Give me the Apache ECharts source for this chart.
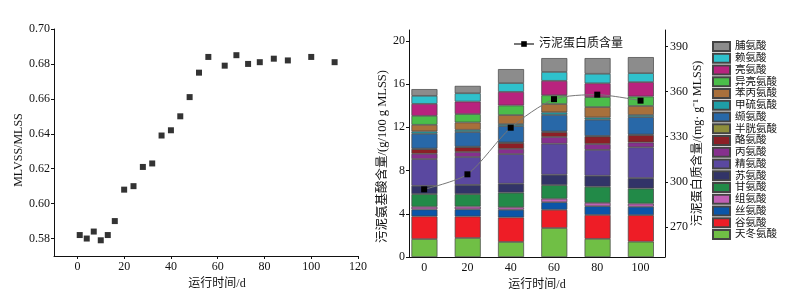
<!DOCTYPE html>
<html>
<head>
<meta charset="utf-8">
<script src="https://cdn.jsdelivr.net/npm/echarts@6/dist/echarts.min.js"></script>
<style>
  html, body { margin: 0; padding: 0; background: #fff; }
  #chart { width: 787px; height: 296px; }
</style>
</head>
<body>
<div id="chart"></div>
<script>
// 左图: MLVSS/MLSS 随运行时间
const ratioDays = [1, 4, 7, 10, 13, 16, 20, 24, 28, 32, 36, 40, 44, 48, 52, 56, 63, 68, 73, 78, 84, 90, 100, 110];
const ratioValues = [0.582, 0.580, 0.584, 0.579, 0.582, 0.590, 0.608, 0.610, 0.621, 0.623, 0.639, 0.642,
  0.650, 0.661, 0.675, 0.684, 0.679, 0.685, 0.680, 0.681, 0.683, 0.682, 0.684, 0.681];
const ratioTicks = [0.58, 0.60, 0.62, 0.64, 0.66, 0.68, 0.70];
const dayTicksLeft = [0, 20, 40, 60, 80, 100, 120];

// 右图: 氨基酸组成 (g/100 g MLSS), 自下而上
const barDays = [0, 20, 40, 60, 80, 100];
const asp = [1.66, 1.76, 1.39, 2.68, 1.68, 1.42]; // 天冬氨酸
const glu = [2.10, 1.99, 2.27, 1.69, 2.21, 2.45]; // 谷氨酸
const ser = [0.64, 0.66, 0.71, 0.70, 0.81, 0.78]; // 丝氨酸
const his = [0.25, 0.26, 0.23, 0.32, 0.31, 0.29]; // 组氨酸
const gly = [1.17, 1.15, 1.35, 1.26, 1.49, 1.40]; // 甘氨酸
const thr = [0.77, 0.85, 0.83, 0.96, 1.02, 0.96]; // 苏氨酸
const arg = [2.47, 2.58, 2.74, 2.87, 2.39, 2.85]; // 精氨酸
const ala = [0.49, 0.46, 0.48, 0.62, 0.54, 0.45]; // 丙氨酸
const tyr = [0.43, 0.45, 0.55, 0.46, 0.70, 0.68]; // 酪氨酸
const cys = [0.05, 0.05, 0.05, 0.05, 0.05, 0.05]; // 半胱氨酸
const val = [1.37, 1.35, 1.51, 1.53, 1.50, 1.61]; // 缬氨酸
const met = [0.22, 0.21, 0.19, 0.24, 0.21, 0.20]; // 甲硫氨酸
const phe = [0.61, 0.68, 0.83, 0.77, 0.96, 0.83]; // 苯丙氨酸
const ile = [0.83, 0.77, 0.89, 0.81, 0.92, 0.88]; // 异亮氨酸
const leu = [1.11, 1.16, 1.26, 1.34, 1.28, 1.33]; // 亮氨酸
const lys = [0.74, 0.77, 0.81, 0.82, 0.88, 0.83]; // 赖氨酸
const pro = [0.62, 0.68, 1.29, 1.28, 1.45, 1.48]; // 脯氨酸

// 污泥蛋白质含量 (mg/g MLSS)
const protein = [295, 305, 336, 355, 358, 354];

const aminoTicks = [0, 4, 8, 12, 16, 20];
const proteinTicks = [270, 300, 330, 360, 390];
const dayTicksRight = [0, 20, 40, 60, 80, 100];

const acids = [
  ['天冬氨酸', asp, '#70bf45'],
  ['谷氨酸', glu, '#ee1d26'],
  ['丝氨酸', ser, '#0b55a8'],
  ['组氨酸', his, '#c060b4'],
  ['甘氨酸', gly, '#228a48'],
  ['苏氨酸', thr, '#323468'],
  ['精氨酸', arg, '#5a48a0'],
  ['丙氨酸', ala, '#86308e'],
  ['酪氨酸', tyr, '#8c1f26'],
  ['半胱氨酸', cys, '#8e8e3c'],
  ['缬氨酸', val, '#2868a8'],
  ['甲硫氨酸', met, '#1e9ea6'],
  ['苯丙氨酸', phe, '#a8703c'],
  ['异亮氨酸', ile, '#4bbd4a'],
  ['亮氨酸', leu, '#b8237e'],
  ['赖氨酸', lys, '#2fc1cc'],
  ['脯氨酸', pro, '#8c8c8c']
];

const FONT = "'Liberation Serif', 'Noto Sans CJK SC', serif";
const txt = { color: '#111', fontFamily: FONT, fontSize: 12 };
const axisLine = { show: true, onZero: false, lineStyle: { color: '#111', width: 1 } };

const chart = echarts.init(document.getElementById('chart'));

// 柱子画在一个隐藏的类目网格上（与右图共用同一纵向刻度）
const barSeries = acids.map(([name, values, color]) => ({
  name: name,
  type: 'bar',
  stack: 'amino',
  xAxisIndex: 2,
  yAxisIndex: 3,
  barWidth: 26,
  itemStyle: { color: color, borderColor: '#444', borderWidth: 0.7 },
  data: values
}));

const option = {
  animation: false,
  backgroundColor: '#fff',
  textStyle: { fontFamily: FONT },
  legend: [
    {
      data: ['污泥蛋白质含量'],
      left: 508, top: 33,
      itemWidth: 20, itemHeight: 7,
      textStyle: { color: '#111', fontFamily: FONT, fontSize: 12 }
    },
    {
      data: acids.map(a => a[0]).reverse(),
      orient: 'vertical',
      left: 707, top: 36,
      itemWidth: 17, itemHeight: 9, itemGap: 0.75,
      icon: 'rect',
      textStyle: { color: '#111', fontFamily: FONT, fontSize: 10.5 }
    }
  ],
  grid: [
    { left: 54, top: 29, width: 304, height: 227 },
    { left: 409, top: 30, width: 256, height: 227 },
    { left: 402.8, top: 30, width: 259.7, height: 227 }
  ],
  xAxis: [
    {
      type: 'value', gridIndex: 0, min: -10, max: 120,
      name: '运行时间/d', nameLocation: 'middle', nameGap: 18,
      nameTextStyle: Object.assign({}, txt, { padding: [0, 0, 0, 22] }),
      axisLine: axisLine,
      axisTick: { show: true, length: 3, customValues: dayTicksLeft, lineStyle: { color: '#111' } },
      axisLabel: Object.assign({}, txt, { margin: 5, customValues: dayTicksLeft }),
      splitLine: { show: false }
    },
    {
      type: 'value', gridIndex: 1, min: -7, max: 111.3,
      name: '运行时间/d', nameLocation: 'middle', nameGap: 19,
      nameTextStyle: txt,
      axisLine: axisLine,
      axisTick: { show: false },
      axisLabel: Object.assign({}, txt, { margin: 5, customValues: dayTicksRight }),
      splitLine: { show: false }
    },
    {
      type: 'category', gridIndex: 2, data: barDays,
      show: false
    }
  ],
  yAxis: [
    {
      type: 'value', gridIndex: 0, min: 0.57, max: 0.70,
      name: 'MLVSS/MLSS', nameLocation: 'middle', nameGap: 26,
      nameTextStyle: Object.assign({}, txt, { padding: [0, 15, 0, 0] }),
      axisLine: axisLine,
      axisTick: { show: true, length: 3, customValues: ratioTicks, lineStyle: { color: '#111' } },
      axisLabel: Object.assign({}, txt, { margin: 4, customValues: ratioTicks, formatter: v => v.toFixed(2) }),
      splitLine: { show: false }
    },
    {
      type: 'value', gridIndex: 1, min: 0, max: 21,
      name: '污泥氨基酸含量/(g/100 g MLSS)', nameLocation: 'middle', nameGap: 20,
      nameTextStyle: Object.assign({}, txt, { fontSize: 12.5, padding: [0, 26, 0, 0] }),
      axisLine: axisLine,
      axisTick: { show: true, length: 3, customValues: aminoTicks, lineStyle: { color: '#111' } },
      axisLabel: Object.assign({}, txt, { margin: 4, customValues: aminoTicks }),
      splitLine: { show: false }
    },
    {
      type: 'value', gridIndex: 1, position: 'right', min: 250, max: 401,
      name: '污泥蛋白质含量/(mg· g⁻¹ MLSS)', nameLocation: 'middle', nameGap: 25,
      nameTextStyle: txt,
      axisLine: axisLine,
      axisTick: { show: true, length: 3, customValues: proteinTicks, lineStyle: { color: '#111' } },
      axisLabel: Object.assign({}, txt, { margin: 5, customValues: proteinTicks }),
      splitLine: { show: false }
    },
    {
      type: 'value', gridIndex: 2, min: 0, max: 21,
      show: false
    }
  ],
  series: [
    {
      name: 'MLVSS/MLSS',
      type: 'scatter',
      xAxisIndex: 0, yAxisIndex: 0,
      symbol: 'rect', symbolSize: 6,
      itemStyle: { color: '#000' },
      data: ratioDays.map((d, i) => [d, ratioValues[i]])
    },
    ...barSeries,
    {
      name: '污泥蛋白质含量',
      type: 'line',
      xAxisIndex: 1, yAxisIndex: 2,
      smooth: 0.25,
      symbol: 'rect', symbolSize: 6,
      lineStyle: { color: '#777', width: 1 },
      itemStyle: { color: '#000' },
      z: 5,
      data: barDays.map((d, i) => [d, protein[i]])
    }
  ]
};

chart.setOption(option);
</script>
</body>
</html>
